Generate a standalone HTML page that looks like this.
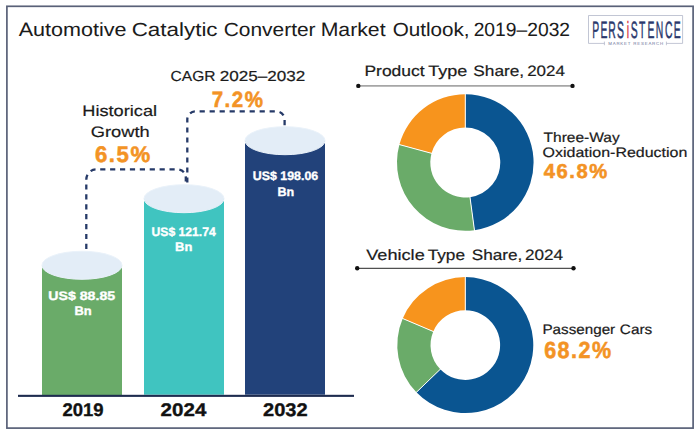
<!DOCTYPE html>
<html><head><meta charset="utf-8">
<style>
html,body{margin:0;padding:0;background:#fff;}
body{width:700px;height:435px;overflow:hidden;position:relative;}
svg{position:absolute;left:0;top:0;}
text{font-family:"Liberation Sans",sans-serif;}
</style></head><body>
<svg width="700" height="435" viewBox="0 0 700 435" text-rendering="geometricPrecision">
  <rect x="6.9" y="6.3" width="686.2" height="421.8" fill="#fff" stroke="#596178" stroke-width="1.7"/>
  <g>
    <path d="M604.4 43.4H588.5V15.5H682.6V43.4H666.4" fill="none" stroke="#aeb3c6" stroke-width="0.75"/>
    <path d="M604.4 41.6V45.2M666.4 41.6V45.2" fill="none" stroke="#aeb3c6" stroke-width="0.75"/>
    <text transform="translate(595.75,37.6) scale(0.44,1)" text-anchor="middle" font-size="23.6" fill="#2a386c" stroke="#2a386c" stroke-width="0.5">P</text><text transform="translate(604.0,37.6) scale(0.44,1)" text-anchor="middle" font-size="23.6" fill="#2a386c" stroke="#2a386c" stroke-width="0.5">E</text><text transform="translate(612.1,37.6) scale(0.44,1)" text-anchor="middle" font-size="23.6" fill="#2a386c" stroke="#2a386c" stroke-width="0.5">R</text><text transform="translate(620.35,37.6) scale(0.44,1)" text-anchor="middle" font-size="23.6" fill="#2a386c" stroke="#2a386c" stroke-width="0.5">S</text><text transform="translate(627.8,37.6) scale(0.44,1)" text-anchor="middle" font-size="23.6" fill="#d9343c" stroke="#d9343c" stroke-width="0.5">i</text><text transform="translate(634.2,37.6) scale(0.44,1)" text-anchor="middle" font-size="23.6" fill="#2a386c" stroke="#2a386c" stroke-width="0.5">S</text><text transform="translate(642.25,37.6) scale(0.44,1)" text-anchor="middle" font-size="23.6" fill="#2a386c" stroke="#2a386c" stroke-width="0.5">T</text><text transform="translate(650.9,37.6) scale(0.44,1)" text-anchor="middle" font-size="23.6" fill="#2a386c" stroke="#2a386c" stroke-width="0.5">E</text><text transform="translate(659.4,37.6) scale(0.44,1)" text-anchor="middle" font-size="23.6" fill="#2a386c" stroke="#2a386c" stroke-width="0.5">N</text><text transform="translate(668.7,37.6) scale(0.44,1)" text-anchor="middle" font-size="23.6" fill="#2a386c" stroke="#2a386c" stroke-width="0.5">C</text><text transform="translate(677.3,37.6) scale(0.44,1)" text-anchor="middle" font-size="23.6" fill="#2a386c" stroke="#2a386c" stroke-width="0.5">E</text>
    <text x="608.2" y="45.2" font-size="4.4" fill="#6d7399" textLength="55" lengthAdjust="spacing">MARKET RESEARCH</text>
  </g>
  <rect x="42" y="265.3" width="80" height="130" fill="#6aab69"/>
  <ellipse cx="82" cy="265.3" rx="40" ry="14" fill="#e3edf7" stroke="#eaf2fa" stroke-width="1"/>
  <rect x="144" y="198.7" width="80" height="196" fill="#40c4c0"/>
  <ellipse cx="184" cy="198.7" rx="40" ry="14" fill="#e3edf7" stroke="#eaf2fa" stroke-width="1"/>
  <rect x="245" y="140.7" width="80" height="254" fill="#22427a"/>
  <ellipse cx="285" cy="140.7" rx="40" ry="14" fill="#e3edf7" stroke="#eaf2fa" stroke-width="1"/>
  <rect x="18" y="394.8" width="336" height="2.1" fill="#1e2c4f"/>
  <g fill="none" stroke="#263a68" stroke-width="2.3">
    <path d="M86.3 249V179.4A10 10 0 0 1 96.3 169.4H177.8A8 8 0 0 1 185.8 177.4V182.6" stroke-dasharray="5.2 4.7"/>
    <path d="M187.3 182.6V119.4A8 8 0 0 1 195.3 111.4H276.6A8 8 0 0 1 284.6 119.4V125.4" stroke-dasharray="5.2 4.8"/>
  </g>
  <line x1="358.3" y1="85.9" x2="572.5" y2="85.9" stroke="#a6a6a6" stroke-width="1.8"/>
  <circle cx="358.3" cy="85.9" r="2.2" fill="#111"/>
  <circle cx="572.5" cy="85.9" r="2.2" fill="#111"/>
  <line x1="357.2" y1="268.3" x2="573.5" y2="268.3" stroke="#505050" stroke-width="1.3"/>
  <circle cx="357.2" cy="268.3" r="2.2" fill="#111"/>
  <circle cx="573.5" cy="268.3" r="2.2" fill="#111"/>
  <g><path d="M465.30 94.20A68.3 68.3 0 0 1 474.45 230.18L469.99 197.18A35 35 0 0 0 465.30 127.50Z" fill="#0a5591"/><path d="M474.45 230.18A68.3 68.3 0 0 1 399.39 144.59L431.52 153.32A35 35 0 0 0 469.99 197.18Z" fill="#6aab69"/><path d="M399.39 144.59A68.3 68.3 0 0 1 465.30 94.20L465.30 127.50A35 35 0 0 0 431.52 153.32Z" fill="#f7941d"/><line x1="465.30" y1="93.20" x2="465.30" y2="128.50" stroke="#fff" stroke-width="1"/><line x1="474.59" y1="231.18" x2="469.86" y2="196.19" stroke="#fff" stroke-width="1"/><line x1="398.42" y1="144.33" x2="432.49" y2="153.59" stroke="#fff" stroke-width="1"/></g>
  <g><path d="M465.30 277.10A68 68 0 1 1 416.38 392.34L440.27 369.27A34.8 34.8 0 1 0 465.30 310.30Z" fill="#0a5591"/><path d="M416.38 392.34A68 68 0 0 1 402.71 318.53L433.27 331.50A34.8 34.8 0 0 0 440.27 369.27Z" fill="#6aab69"/><path d="M402.71 318.53A68 68 0 0 1 465.30 277.10L465.30 310.30A34.8 34.8 0 0 0 433.27 331.50Z" fill="#f7941d"/><line x1="465.30" y1="276.10" x2="465.30" y2="311.30" stroke="#fff" stroke-width="1"/><line x1="415.67" y1="393.03" x2="440.99" y2="368.58" stroke="#fff" stroke-width="1"/><line x1="401.79" y1="318.14" x2="434.19" y2="331.89" stroke="#fff" stroke-width="1"/></g>
  <text x="18.66" y="35.7" font-size="19.1" fill="#1b1b1b" stroke="#1b1b1b" stroke-width="0.04" textLength="107.91" lengthAdjust="spacingAndGlyphs">Automotive</text>
  <text x="131.66" y="35.7" font-size="19.1" fill="#1b1b1b" stroke="#1b1b1b" stroke-width="0.04" textLength="85.91" lengthAdjust="spacingAndGlyphs">Catalytic</text>
  <text x="223.66" y="35.7" font-size="19.1" fill="#1b1b1b" stroke="#1b1b1b" stroke-width="0.04" textLength="91.91" lengthAdjust="spacingAndGlyphs">Converter</text>
  <text x="320.66" y="35.7" font-size="19.1" fill="#1b1b1b" stroke="#1b1b1b" stroke-width="0.04" textLength="64.91" lengthAdjust="spacingAndGlyphs">Market</text>
  <text x="392.66" y="35.7" font-size="19.1" fill="#1b1b1b" stroke="#1b1b1b" stroke-width="0.04" textLength="76.91" lengthAdjust="spacingAndGlyphs">Outlook,</text>
  <text x="473.66" y="35.7" font-size="19.1" fill="#1b1b1b" stroke="#1b1b1b" stroke-width="0.04" textLength="96.41" lengthAdjust="spacingAndGlyphs">2019–2032</text>
  <text x="170.58" y="80.6" font-size="14.5" fill="#1b1b1b" stroke="#1b1b1b" stroke-width="0.2" textLength="44.95" lengthAdjust="spacingAndGlyphs">CAGR</text>
  <text x="219.69" y="80.6" font-size="14.5" fill="#1b1b1b" stroke="#1b1b1b" stroke-width="0.2" textLength="85.65" lengthAdjust="spacingAndGlyphs">2025–2032</text>
  <text x="211.75" y="106.5" font-size="22.2" font-weight="bold" fill="#f39325" stroke="#f39325" stroke-width="0.55" letter-spacing="1.6" textLength="52.62" lengthAdjust="spacingAndGlyphs">7.2%</text>
  <text x="82.34" y="116.0" font-size="15.2" fill="#1b1b1b" stroke="#1b1b1b" stroke-width="0.2" textLength="74.72" lengthAdjust="spacingAndGlyphs">Historical</text>
  <text x="90.74" y="136.8" font-size="15.2" fill="#1b1b1b" stroke="#1b1b1b" stroke-width="0.2" textLength="58.92" lengthAdjust="spacingAndGlyphs">Growth</text>
  <text x="94.93" y="162.3" font-size="22.4" font-weight="bold" fill="#f39325" stroke="#f39325" stroke-width="0.55" letter-spacing="1.6" textLength="56.84" lengthAdjust="spacingAndGlyphs">6.5%</text>
  <text x="364.45" y="75.8" font-size="15" fill="#1b1b1b" stroke="#1b1b1b" stroke-width="0.2" textLength="60.20" lengthAdjust="spacingAndGlyphs">Product</text>
  <text x="428.25" y="75.8" font-size="15" fill="#1b1b1b" stroke="#1b1b1b" stroke-width="0.2" textLength="39.10" lengthAdjust="spacingAndGlyphs">Type</text>
  <text x="473.25" y="75.8" font-size="15" fill="#1b1b1b" stroke="#1b1b1b" stroke-width="0.2" textLength="50.90" lengthAdjust="spacingAndGlyphs">Share,</text>
  <text x="527.15" y="75.8" font-size="15" fill="#1b1b1b" stroke="#1b1b1b" stroke-width="0.2" textLength="37.80" lengthAdjust="spacingAndGlyphs">2024</text>
  <text x="366.25" y="259.7" font-size="15" fill="#1b1b1b" stroke="#1b1b1b" stroke-width="0.2" textLength="58.50" lengthAdjust="spacingAndGlyphs">Vehicle</text>
  <text x="427.65" y="259.7" font-size="15" fill="#1b1b1b" stroke="#1b1b1b" stroke-width="0.2" textLength="37.40" lengthAdjust="spacingAndGlyphs">Type</text>
  <text x="471.75" y="259.7" font-size="15" fill="#1b1b1b" stroke="#1b1b1b" stroke-width="0.2" textLength="50.60" lengthAdjust="spacingAndGlyphs">Share,</text>
  <text x="524.95" y="259.7" font-size="15" fill="#1b1b1b" stroke="#1b1b1b" stroke-width="0.2" textLength="38.20" lengthAdjust="spacingAndGlyphs">2024</text>
  <text x="543.56" y="141.7" font-size="13.7" fill="#1b1b1b" stroke="#1b1b1b" stroke-width="0.2" textLength="76.24" lengthAdjust="spacingAndGlyphs">Three-Way</text>
  <text x="542.56" y="156.6" font-size="13.7" fill="#1b1b1b" stroke="#1b1b1b" stroke-width="0.2" textLength="144.84" lengthAdjust="spacingAndGlyphs">Oxidation-Reduction</text>
  <text x="543.69" y="178.3" font-size="20.2" font-weight="bold" fill="#f39325" stroke="#f39325" stroke-width="0.55" letter-spacing="1.6" textLength="65.22" lengthAdjust="spacingAndGlyphs">46.8%</text>
  <text x="542.46" y="333.8" font-size="13.7" fill="#1b1b1b" stroke="#1b1b1b" stroke-width="0.2" textLength="72.74" lengthAdjust="spacingAndGlyphs">Passenger</text>
  <text x="619.86" y="333.8" font-size="13.7" fill="#1b1b1b" stroke="#1b1b1b" stroke-width="0.2" textLength="32.44" lengthAdjust="spacingAndGlyphs">Cars</text>
  <text x="544.16" y="357.7" font-size="23.4" font-weight="bold" fill="#f39325" stroke="#f39325" stroke-width="0.55" letter-spacing="1.6" textLength="68.34" lengthAdjust="spacingAndGlyphs">68.2%</text>
  <text x="48.34" y="299.7" font-size="12.3" font-weight="bold" fill="#fff" stroke="#fff" stroke-width="0.35" textLength="66.83" lengthAdjust="spacingAndGlyphs">US$ 88.85</text>
  <text x="74.44" y="315.4" font-size="12.3" font-weight="bold" fill="#fff" stroke="#fff" stroke-width="0.35" textLength="17.23" lengthAdjust="spacingAndGlyphs">Bn</text>
  <text x="151.54" y="235.6" font-size="12.3" font-weight="bold" fill="#fff" stroke="#fff" stroke-width="0.35" textLength="64.23" lengthAdjust="spacingAndGlyphs">US$ 121.74</text>
  <text x="175.14" y="251" font-size="12.3" font-weight="bold" fill="#fff" stroke="#fff" stroke-width="0.35" textLength="17.23" lengthAdjust="spacingAndGlyphs">Bn</text>
  <text x="252.74" y="180.3" font-size="12.3" font-weight="bold" fill="#fff" stroke="#fff" stroke-width="0.35" textLength="65.43" lengthAdjust="spacingAndGlyphs">US$ 198.06</text>
  <text x="277.44" y="195.7" font-size="12.3" font-weight="bold" fill="#fff" stroke="#fff" stroke-width="0.35" textLength="16.73" lengthAdjust="spacingAndGlyphs">Bn</text>
  <text x="62.53" y="415.8" font-size="18.2" font-weight="bold" fill="#111" stroke="#111" stroke-width="0.35" textLength="41.12" lengthAdjust="spacingAndGlyphs">2019</text>
  <text x="160.63" y="415.8" font-size="18.2" font-weight="bold" fill="#111" stroke="#111" stroke-width="0.35" textLength="45.72" lengthAdjust="spacingAndGlyphs">2024</text>
  <text x="263.03" y="415.8" font-size="18.2" font-weight="bold" fill="#111" stroke="#111" stroke-width="0.35" textLength="44.62" lengthAdjust="spacingAndGlyphs">2032</text>
</svg>
</body></html>
